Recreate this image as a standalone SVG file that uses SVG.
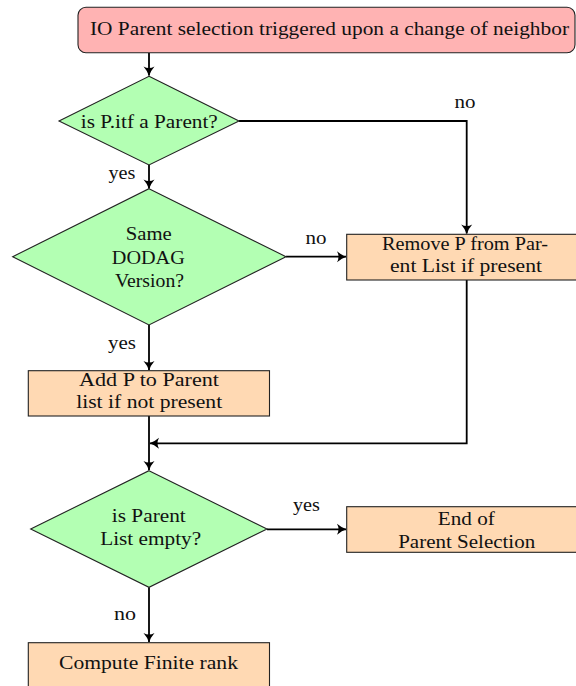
<svg xmlns="http://www.w3.org/2000/svg" width="576" height="686" viewBox="0 0 576 686">
<style>
text{font-family:"Liberation Serif","Times New Roman",serif;font-size:18.5px;fill:#111;text-anchor:middle}
.start{fill:#ffb3b3;stroke:#222;stroke-width:1.1}
.dec{fill:#b3ffb3;stroke:#222;stroke-width:1.1}
.proc{fill:#ffd9b3;stroke:#222;stroke-width:1.1}
.conn{fill:none;stroke:#000;stroke-width:1.8}
</style>
<defs>
<marker id="arr" markerUnits="userSpaceOnUse" viewBox="-10 -6 11 12" refX="0" refY="0" markerWidth="11" markerHeight="12" orient="auto">
<path d="M -9 -5.5 Q -4 -1.2 0.5 0 Q -4 1.2 -9 5.5 Q -6 0 -9 -5.5 Z" fill="#000"/>
</marker>
</defs>
<g id="connectors">
<path class="conn" d="M149 53 V75.5" marker-end="url(#arr)"/>
<path class="conn" d="M239 121 H466.7 V233.5" marker-end="url(#arr)"/>
<path class="conn" d="M149 165 V188.5" marker-end="url(#arr)"/>
<path class="conn" d="M286 256.7 H346" marker-end="url(#arr)"/>
<path class="conn" d="M149 325 V370" marker-end="url(#arr)"/>
<path class="conn" d="M466.7 280 V443.3 H150" marker-end="url(#arr)"/>
<path class="conn" d="M149 416 V470" marker-end="url(#arr)"/>
<path class="conn" d="M267 529.3 H346" marker-end="url(#arr)"/>
<path class="conn" d="M149 587.3 V642" marker-end="url(#arr)"/>
<text x="465" y="108" textLength="21" lengthAdjust="spacingAndGlyphs">no</text>
<text x="122" y="179" textLength="27" lengthAdjust="spacingAndGlyphs">yes</text>
<text x="316" y="244" textLength="21" lengthAdjust="spacingAndGlyphs">no</text>
<text x="122" y="349" textLength="28" lengthAdjust="spacingAndGlyphs">yes</text>
<text x="306.5" y="511" textLength="27" lengthAdjust="spacingAndGlyphs">yes</text>
<text x="125" y="620" textLength="22" lengthAdjust="spacingAndGlyphs">no</text>
</g>
<g id="start">
<rect class="start" x="78" y="7.3" width="497" height="45.5" rx="8"/>
<text x="329.5" y="35" textLength="479" lengthAdjust="spacingAndGlyphs">IO Parent selection triggered upon a change of neighbor</text>
</g>
<g id="d1">
<polygon class="dec" points="149,76.3 239,121 149,165 59,121"/>
<text x="149.3" y="128" textLength="137" lengthAdjust="spacingAndGlyphs">is P.itf a Parent?</text>
</g>
<g id="d2">
<polygon class="dec" points="149,188.7 286,256.7 149,325 12.7,256.7"/>
<text x="148.7" y="240" textLength="46" lengthAdjust="spacingAndGlyphs">Same</text>
<text x="148.3" y="264" textLength="73" lengthAdjust="spacingAndGlyphs">DODAG</text>
<text x="149.5" y="286.7" textLength="69" lengthAdjust="spacingAndGlyphs">Version?</text>
</g>
<g id="remove">
<rect class="proc" x="346.7" y="234.3" width="240" height="45.7"/>
<text x="465" y="250" textLength="166" lengthAdjust="spacingAndGlyphs">Remove P from Par-</text>
<text x="466" y="272.3" textLength="152" lengthAdjust="spacingAndGlyphs">ent List if present</text>
</g>
<g id="add">
<rect class="proc" x="28.3" y="370.7" width="241.2" height="45.3"/>
<text x="149" y="386" textLength="140" lengthAdjust="spacingAndGlyphs">Add P to Parent</text>
<text x="149.2" y="408" textLength="146" lengthAdjust="spacingAndGlyphs">list if not present</text>
</g>
<g id="d3">
<polygon class="dec" points="149,470.7 267,529 149,587.3 30.7,529"/>
<text x="148.8" y="521.7" textLength="74" lengthAdjust="spacingAndGlyphs">is Parent</text>
<text x="150.7" y="545" textLength="101" lengthAdjust="spacingAndGlyphs">List empty?</text>
</g>
<g id="end">
<rect class="proc" x="346.7" y="506.7" width="240" height="45.6"/>
<text x="466.3" y="525" textLength="57" lengthAdjust="spacingAndGlyphs">End of</text>
<text x="466.7" y="547.7" textLength="137" lengthAdjust="spacingAndGlyphs">Parent Selection</text>
</g>
<g id="compute">
<rect class="proc" x="28.3" y="642.7" width="241.2" height="45"/>
<text x="148.5" y="669.3" textLength="179" lengthAdjust="spacingAndGlyphs">Compute Finite rank</text>
</g>
</svg>
